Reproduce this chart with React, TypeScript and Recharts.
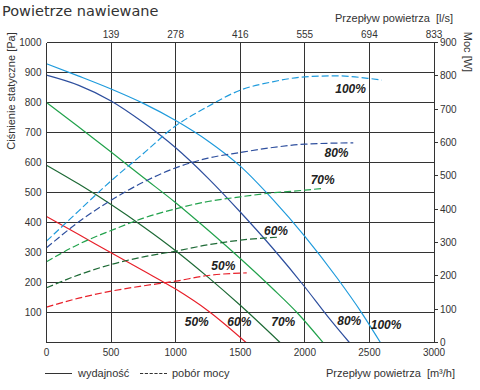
import React from 'react';
import { LineChart, Line, XAxis, YAxis, CartesianGrid, ReferenceDot } from 'recharts';

// axes
const FLOW_TICKS = [0, 500, 1000, 1500, 2000, 2500, 3000];
const FLOW_LS = ['', '139', '278', '416', '555', '694', '833'];
const PA_TICKS = [0, 100, 200, 300, 400, 500, 600, 700, 800, 900, 1000];
const W_TICKS = [0, 100, 200, 300, 400, 500, 600, 700, 800, 900];

// wydajność: [m3/h, Pa]
const pressure100 = [[0, 929], [250, 888], [500, 845], [750, 797], [1000, 740], [1250, 672], [1500, 588], [1750, 478], [2000, 354], [2250, 215], [2440, 99], [2585, 0]];
const pressure80 = [[0, 891], [250, 857], [500, 805], [750, 733], [1000, 649], [1250, 548], [1500, 435], [1750, 315], [2000, 185], [2175, 88], [2345, 0]];
const pressure70 = [[0, 800], [250, 718], [500, 635], [750, 550], [1000, 466], [1250, 375], [1500, 280], [1750, 180], [1950, 95], [2140, 0]];
const pressure60 = [[0, 591], [250, 528], [500, 460], [750, 386], [1000, 306], [1250, 218], [1500, 124], [1808, 0]];
const pressure50 = [[0, 420], [250, 360], [500, 299], [750, 239], [1000, 178], [1250, 106], [1545, 0]];

// pobór mocy: [m3/h, W]
const power100 = [[0, 304], [250, 395], [500, 485], [750, 567], [1000, 650], [1250, 708], [1500, 757], [1750, 782], [2000, 797], [2250, 800], [2500, 792], [2595, 787]];
const power80 = [[0, 284], [250, 362], [500, 427], [750, 481], [1000, 524], [1250, 553], [1500, 570], [1750, 585], [2000, 595], [2375, 599]];
const power70 = [[0, 242], [250, 295], [500, 336], [750, 373], [1000, 401], [1250, 423], [1500, 437], [1750, 449], [2000, 457], [2130, 462]];
const power60 = [[0, 164], [250, 203], [500, 234], [750, 257], [1000, 274], [1250, 293], [1500, 307], [1795, 316]];
const power50 = [[0, 106], [250, 133], [500, 154], [750, 170], [1000, 184], [1250, 201], [1550, 209]];

const SPEEDS = ['100%', '80%', '70%', '60%', '50%'];
const COLORS = ['#1f9bdc', '#2e4f9e', '#22a24c', '#1e6a36', '#e8202a'];
const PRESSURE = [pressure100, pressure80, pressure70, pressure60, pressure50];
const POWER = [power100, power80, power70, power60, power50];

// curve labels, in chart units
const pressureLabelX = [2629, 2344, 1833, 1493, 1163];
const pressureLabelY = [59, 71, 68, 68, 68];
const powerLabelX = [2354, 2245, 2138, 1777, 1369];
const powerLabelY = [762, 570, 489, 336, 229];

const FONT = '"Liberation Sans", Arial, sans-serif';
const TICK = { fill: '#333', fontSize: 10, fontFamily: FONT };
const AXIS_LINE = { stroke: '#333' };

const toRows = (pts: number[][]) => pts.map(([x, y]) => ({ x, y }));

const txt: React.CSSProperties = {
  position: 'absolute',
  fontFamily: FONT,
  fontSize: 11,
  color: '#333',
  whiteSpace: 'nowrap',
  lineHeight: '12px',
};

export default function App() {
  const labelStyle = {
    fill: '#222',
    fontSize: 12,
    fontWeight: 'bold',
    fontStyle: 'italic',
    fontFamily: FONT,
  };

  return (
    <div style={{ position: 'absolute', left: 0, top: 0, width: 480, height: 390, background: '#fff' }}>
      <style>{'.recharts-cartesian-grid line, .recharts-cartesian-axis-line, .recharts-cartesian-axis-tick-line { shape-rendering: crispEdges; }'}</style>

      <div style={{ ...txt, left: 2, top: 3, fontSize: 14.5, lineHeight: '17px', fontFamily: '"DejaVu Sans", sans-serif' }}>
        Powietrze nawiewane
      </div>

      <LineChart width={480} height={390} margin={{ top: 0, right: 0, bottom: 0, left: 0 }}>
        <CartesianGrid xAxisId="bottom" yAxisId="left" stroke="#333" strokeWidth={1} />
        <XAxis
          xAxisId="bottom"
          type="number"
          dataKey="x"
          domain={[0, 3000]}
          ticks={FLOW_TICKS}
          interval={0}
          height={47.5}
          tickSize={0}
          tickMargin={6}
          axisLine={AXIS_LINE}
          tick={TICK}
          allowDataOverflow
        />
        <XAxis
          xAxisId="top"
          orientation="top"
          type="number"
          dataKey="x"
          domain={[0, 3000]}
          ticks={FLOW_TICKS}
          interval={0}
          height={42.5}
          tickSize={0}
          tickMargin={5}
          axisLine={AXIS_LINE}
          tick={TICK}
          tickFormatter={(v: number) => FLOW_LS[FLOW_TICKS.indexOf(v)]}
          allowDataOverflow
        />
        <YAxis
          yAxisId="left"
          type="number"
          domain={[0, 1000]}
          ticks={PA_TICKS}
          interval={0}
          width={46.5}
          tickSize={0}
          tickMargin={5}
          axisLine={AXIS_LINE}
          tick={TICK}
          tickFormatter={(v: number) => (v === 0 ? '' : String(v))}
        />
        <YAxis
          yAxisId="right"
          orientation="right"
          type="number"
          domain={[0, 900]}
          ticks={W_TICKS}
          interval={0}
          width={46}
          tickSize={4}
          tickMargin={2}
          axisLine={AXIS_LINE}
          tickLine={{ stroke: '#333' }}
          tick={TICK}
        />

        {PRESSURE.map((pts, i) => (
          <Line
            key={'p' + i}
            xAxisId="bottom"
            yAxisId="left"
            data={toRows(pts)}
            dataKey="y"
            type="monotone"
            stroke={COLORS[i]}
            strokeWidth={1.2}
            dot={false}
            activeDot={false}
            isAnimationActive={false}
          />
        ))}
        {POWER.map((pts, i) => (
          <Line
            key={'w' + i}
            xAxisId="top"
            yAxisId="right"
            data={toRows(pts)}
            dataKey="y"
            type="monotone"
            stroke={COLORS[i]}
            strokeWidth={1.2}
            strokeDasharray="7 3"
            dot={false}
            activeDot={false}
            isAnimationActive={false}
          />
        ))}

        {SPEEDS.map((s, i) => (
          <ReferenceDot
            key={'lp' + i}
            xAxisId="bottom"
            yAxisId="left"
            x={pressureLabelX[i]}
            y={pressureLabelY[i]}
            r={0}
            stroke="none"
            label={{ value: s, position: 'center', ...labelStyle }}
          />
        ))}
        {SPEEDS.map((s, i) => (
          <ReferenceDot
            key={'lw' + i}
            xAxisId="top"
            yAxisId="right"
            x={powerLabelX[i]}
            y={powerLabelY[i]}
            r={0}
            stroke="none"
            label={{ value: s, position: 'center', ...labelStyle }}
          />
        ))}
      </LineChart>

      <div style={{ ...txt, right: 27, top: 12 }}>Przepływ powietrza&nbsp; [l/s]</div>
      <div style={{ ...txt, right: 25, top: 367 }}>Przepływ powietrza&nbsp; [m³/h]</div>
      <div
        style={{
          ...txt,
          left: 11,
          top: 91,
          transform: 'translate(-50%, -50%) rotate(-90deg)',
        }}
      >
        Ciśnienie statyczne [Pa]
      </div>
      <div
        style={{
          ...txt,
          left: 468,
          top: 52,
          transform: 'translate(-50%, -50%) rotate(90deg)',
        }}
      >
        Moc [W]
      </div>

      <svg style={{ position: 'absolute', left: 0, top: 366 }} width={240} height={14}>
        <line x1={45} x2={72} y1={7.5} y2={7.5} stroke="#333" strokeWidth={1} />
        <line x1={140} x2={167} y1={7.5} y2={7.5} stroke="#333" strokeWidth={1} strokeDasharray="3.2 1.6" />
      </svg>
      <div style={{ ...txt, left: 78, top: 367 }}>wydajność</div>
      <div style={{ ...txt, left: 172, top: 367 }}>pobór mocy</div>
    </div>
  );
}
